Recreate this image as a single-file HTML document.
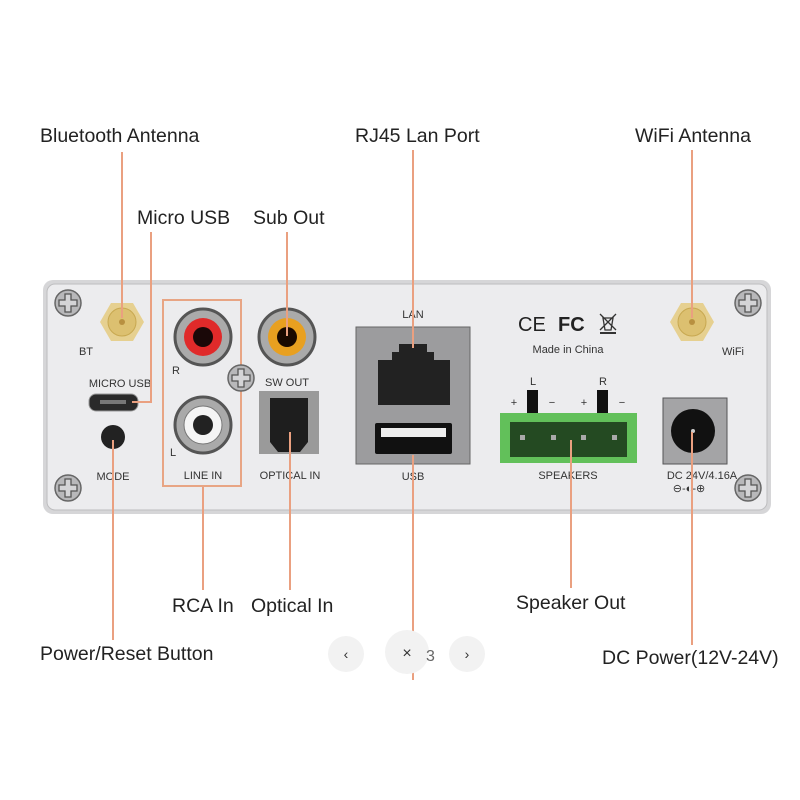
<!DOCTYPE html>
<html><head><meta charset="utf-8"><style>
html,body{margin:0;padding:0;background:#fff;width:800px;height:800px;overflow:hidden}
svg{display:block}
.lb{font-family:"Liberation Sans",sans-serif;font-size:19.5px;fill:#222}
.sm{font-family:"Liberation Sans",sans-serif;font-size:11px;fill:#333}
</style></head><body>
<svg width="800" height="800" viewBox="0 0 800 800" xmlns="http://www.w3.org/2000/svg">
<defs>
<g id="screw"><circle r="13" fill="#b8b8ba" stroke="#666" stroke-width="1.5"/><path d="M-3,-9h6v6h6v6h-6v6h-6v-6h-6v-6h6z" fill="#d4d4d6" stroke="#555" stroke-width="1.3"/></g>
<g id="ant"><polygon points="-22,0 -11,-19 11,-19 22,0 11,19 -11,19" fill="#e6d090"/><circle r="14" fill="#dcc070" stroke="#c8a850"/><circle r="3" fill="#b89040"/></g>
</defs>
<rect x="43" y="280" width="728" height="234" rx="10" fill="#d6d6d8"/>
<rect x="47" y="284" width="720" height="226" rx="8" fill="#ececee" stroke="#bdbdbf"/>
<use href="#screw" x="68" y="303"/><use href="#screw" x="748" y="303"/>
<use href="#screw" x="68" y="488"/><use href="#screw" x="748" y="488"/>
<use href="#ant" x="122" y="322"/><use href="#ant" x="692" y="322"/>
<text class="sm" x="86" y="355" text-anchor="middle">BT</text>
<text class="sm" x="733" y="355" text-anchor="middle">WiFi</text>
<text class="sm" x="120" y="387" text-anchor="middle">MICRO USB</text>
<rect x="89" y="394" width="49" height="17" rx="7" fill="#2a2a2a" stroke="#999"/>
<rect x="100" y="400" width="26" height="4" fill="#777"/>
<circle cx="113" cy="437" r="12" fill="#222"/>
<text class="sm" x="113" y="480" text-anchor="middle">MODE</text>
<rect x="163" y="300" width="78" height="186" fill="none" stroke="#e8a584" stroke-width="2"/>
<circle cx="203" cy="337" r="28" fill="#aaa" stroke="#555" stroke-width="3"/><circle cx="203" cy="337" r="19" fill="#e02a2a"/><circle cx="203" cy="337" r="10" fill="#1a0808"/>
<circle cx="203" cy="425" r="28" fill="#aaa" stroke="#555" stroke-width="3"/><circle cx="203" cy="425" r="19" fill="#f4f4f4" stroke="#777"/><circle cx="203" cy="425" r="10" fill="#222"/>
<text class="sm" x="172" y="374">R</text><text class="sm" x="170" y="456">L</text>
<text class="sm" x="203" y="479" text-anchor="middle">LINE IN</text>
<circle cx="287" cy="337" r="28" fill="#aaa" stroke="#555" stroke-width="3"/><circle cx="287" cy="337" r="19" fill="#e8a020"/><circle cx="287" cy="337" r="10" fill="#1a0a00"/>
<use href="#screw" x="241" y="378"/>
<text class="sm" x="287" y="386" text-anchor="middle">SW OUT</text>
<rect x="259" y="391" width="60" height="63" fill="#9a9a9a"/>
<path d="M270,398h38v44l-8,10h-22l-8,-10z" fill="#1e1e1e"/>
<text class="sm" x="290" y="479" text-anchor="middle">OPTICAL IN</text>
<text class="sm" x="413" y="318" text-anchor="middle">LAN</text>
<rect x="356" y="327" width="114" height="137" fill="#9c9c9e" stroke="#666"/>
<path d="M378,405v-45h14v-8h7v-8h28v8h7v8h16v45z" fill="#222"/>
<rect x="375" y="423" width="77" height="31" rx="2" fill="#111"/>
<rect x="381" y="428" width="65" height="9" fill="#eee"/>
<text class="sm" x="413" y="480" text-anchor="middle">USB</text>
<text x="518" y="331" font-family="Liberation Sans,sans-serif" font-size="20" fill="#222">CE</text>
<text x="558" y="331" font-family="Liberation Sans,sans-serif" font-size="20" font-weight="bold" fill="#222">FC</text>
<path d="M600,314l16,16M616,314l-16,16M603,318h10l-2,12h-6z" stroke="#333" stroke-width="1.3" fill="none"/><rect x="600" y="332" width="16" height="2" fill="#333"/>
<text class="sm" x="568" y="353" text-anchor="middle">Made in China</text>
<text class="sm" x="533" y="385" text-anchor="middle">L</text><text class="sm" x="603" y="385" text-anchor="middle">R</text>
<text class="sm" x="514" y="406" text-anchor="middle">+</text><text class="sm" x="552" y="406" text-anchor="middle">−</text>
<text class="sm" x="584" y="406" text-anchor="middle">+</text><text class="sm" x="622" y="406" text-anchor="middle">−</text>
<rect x="527" y="390" width="11" height="24" fill="#111"/><rect x="597" y="390" width="11" height="24" fill="#111"/>
<rect x="500" y="413" width="137" height="50" fill="#62c05a"/>
<rect x="510" y="422" width="117" height="35" fill="#244a22"/>
<rect x="520" y="435" width="5" height="5" fill="#aaa"/><rect x="551" y="435" width="5" height="5" fill="#aaa"/><rect x="581" y="435" width="5" height="5" fill="#aaa"/><rect x="612" y="435" width="5" height="5" fill="#aaa"/>
<text class="sm" x="568" y="479" text-anchor="middle">SPEAKERS</text>
<rect x="663" y="398" width="64" height="66" fill="#a4a4a6" stroke="#555"/>
<circle cx="693" cy="431" r="22" fill="#111"/><circle cx="693" cy="431" r="2" fill="#ccc"/>
<text class="sm" x="702" y="479" text-anchor="middle">DC 24V/4.16A</text>
<text class="sm" x="689" y="492" text-anchor="middle">⊖-◐-⊕</text>
<g stroke="#eaa080" stroke-width="2" fill="none">
<path d="M122,152V318"/><path d="M151,232V402H132"/><path d="M287,232V336"/>
<path d="M413,150V348"/><path d="M692,150V318"/>
<path d="M203,487V590"/><path d="M290,432V590"/><path d="M571,440V588"/>
<path d="M692,432V645"/><path d="M113,440V640"/><path d="M413,455V680"/>
</g>
<text class="lb" x="40" y="142">Bluetooth Antenna</text>
<text class="lb" x="137" y="224">Micro USB</text>
<text class="lb" x="253" y="224">Sub Out</text>
<text class="lb" x="355" y="142">RJ45 Lan Port</text>
<text class="lb" x="635" y="142">WiFi Antenna</text>
<text class="lb" x="172" y="612">RCA In</text>
<text class="lb" x="251" y="612">Optical In</text>
<text class="lb" x="516" y="609">Speaker Out</text>
<text class="lb" x="40" y="660">Power/Reset Button</text>
<text class="lb" x="602" y="664">DC Power(12V-24V)</text>
<circle cx="346" cy="654" r="18" fill="#f2f2f2"/><text x="346" y="659" text-anchor="middle" font-family="Liberation Sans,sans-serif" font-size="14" fill="#333">‹</text>
<circle cx="407" cy="652" r="22" fill="#f2f2f2"/><text x="407" y="658" text-anchor="middle" font-family="Liberation Sans,sans-serif" font-size="16" fill="#333">×</text>
<text x="426" y="661" font-family="Liberation Sans,sans-serif" font-size="16" fill="#666">3</text>
<circle cx="467" cy="654" r="18" fill="#f2f2f2"/><text x="467" y="659" text-anchor="middle" font-family="Liberation Sans,sans-serif" font-size="14" fill="#333">›</text>
</svg>
</body></html>
